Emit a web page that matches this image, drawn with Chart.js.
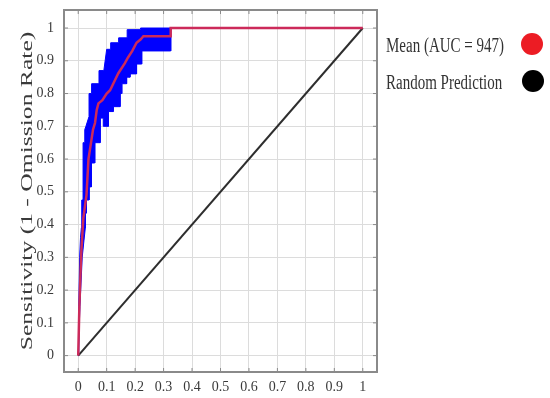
<!DOCTYPE html>
<html><head><meta charset="utf-8">
<script src="https://cdn.jsdelivr.net/npm/chart.js@4.4.1/dist/chart.umd.min.js"></script>
<style>
html,body{margin:0;padding:0;background:#fff;}
#wrap{position:relative;width:550px;height:398px;overflow:hidden;}
canvas{position:absolute;left:0;top:0;}
.lg{position:absolute;left:386px;font-family:'Liberation Serif','Times New Roman',serif;font-size:15px;color:#333;white-space:nowrap;line-height:20px;height:20px;transform:scaleY(1.35);transform-origin:left center;}
.dot{position:absolute;width:22px;height:22px;border-radius:50%;}
</style></head><body>
<div id="wrap"><canvas id="c" width="550" height="398"></canvas><div id="legend"></div></div>
<script>
// ---- data ----
const tickValues = [0, 0.1, 0.2, 0.3, 0.4, 0.5, 0.6, 0.7, 0.8, 0.9, 1];
const tickLabels = ['0', '0.1', '0.2', '0.3', '0.4', '0.5', '0.6', '0.7', '0.8', '0.9', '1'];
const seriesNames = ['Mean (AUC = 947)', 'Random Prediction'];
const legendColors = ['#ec1c24', '#000000'];

const meanX = [0, 0.004, 0.008, 0.011, 0.018, 0.029, 0.036, 0.045, 0.052, 0.059, 0.065, 0.071, 0.085, 0.1, 0.112, 0.123, 0.141, 0.164, 0.175, 0.19, 0.205, 0.219, 0.229, 0.325, 0.325, 1];
const meanY = [0, 0.15, 0.25, 0.32, 0.42, 0.49, 0.6, 0.65, 0.69, 0.71, 0.75, 0.77, 0.78, 0.8, 0.81, 0.83, 0.862, 0.893, 0.91, 0.93, 0.955, 0.965, 0.975, 0.975, 1, 1];

const upperX = [0, 0.002, 0.005, 0.008, 0.011, 0.011, 0.013, 0.013, 0.017, 0.017, 0.023, 0.023, 0.027, 0.038, 0.038, 0.047, 0.047, 0.073, 0.073, 0.09, 0.1, 0.114, 0.114, 0.142, 0.142, 0.172, 0.172, 0.219, 0.219, 0.325];
const upperY = [0, 0.15, 0.3, 0.36, 0.39, 0.435, 0.435, 0.475, 0.475, 0.65, 0.65, 0.69, 0.7, 0.73, 0.8, 0.8, 0.83, 0.83, 0.87, 0.87, 0.935, 0.935, 0.955, 0.955, 0.97, 0.97, 0.995, 0.995, 1, 1];

const lowerX = [0, 0.006, 0.014, 0.02, 0.025, 0.025, 0.029, 0.029, 0.038, 0.038, 0.046, 0.046, 0.058, 0.058, 0.077, 0.077, 0.088, 0.088, 0.106, 0.106, 0.123, 0.123, 0.147, 0.147, 0.153, 0.153, 0.17, 0.17, 0.182, 0.182, 0.205, 0.205, 0.223, 0.223, 0.325, 0.325];
const lowerY = [0, 0.15, 0.3, 0.35, 0.39, 0.435, 0.435, 0.475, 0.475, 0.515, 0.515, 0.588, 0.588, 0.65, 0.65, 0.725, 0.725, 0.70, 0.70, 0.745, 0.745, 0.76, 0.76, 0.80, 0.80, 0.83, 0.83, 0.85, 0.85, 0.86, 0.86, 0.89, 0.89, 0.93, 0.93, 1];

const diagX = [0, 1];
const diagY = [0, 1];

// ---- build ----
const toPts = (xs, ys) => xs.map((x, i) => ({x: x, y: ys[i]}));
const bandPts = toPts(upperX, upperY).concat(toPts(lowerX, lowerY).reverse());

const serif = "'Liberation Serif','Times New Roman',serif";

const boxPlugin = {
  id: 'box',
  afterDatasetsDraw(chart) {
    const {ctx, chartArea: a, scales: {x, y}} = chart;
    ctx.save();
    ctx.strokeStyle = '#8a8a8a';
    ctx.lineWidth = 1;
    ctx.beginPath();
    tickValues.forEach(v => {
      const px = x.getPixelForValue(v);
      ctx.moveTo(px, a.bottom); ctx.lineTo(px, a.bottom - 4);
      ctx.moveTo(px, a.top); ctx.lineTo(px, a.top + 4);
      const py = y.getPixelForValue(v);
      ctx.moveTo(a.left, py); ctx.lineTo(a.left + 4, py);
      ctx.moveTo(a.right, py); ctx.lineTo(a.right - 4, py);
    });
    ctx.stroke();
    ctx.lineWidth = 2;
    ctx.strokeRect(a.left, a.top, a.right - a.left, a.bottom - a.top);
    ctx.restore();
  }
};

const titleStretch = {
  id: 'titleStretch',
  beforeDraw(chart) {
    const s = chart.scales.y;
    if (s && !s._stretched) {
      const orig = s.drawTitle.bind(s);
      s.drawTitle = function () {
        const c = chart.ctx;
        const cy = (this.top + this.bottom) / 2;
        c.save();
        c.translate(0, cy); c.scale(1, 1.6); c.translate(0, -cy);
        orig();
        c.restore();
      };
      s._stretched = true;
    }
  }
};

new Chart(document.getElementById('c'), {
  type: 'scatter',
  data: {
    datasets: [
      {label: seriesNames[0], data: toPts(meanX, meanY), showLine: true, borderColor: '#cc2a5a', borderWidth: 2.5, pointRadius: 0, tension: 0, order: 0},
      {label: seriesNames[1], data: toPts(diagX, diagY), showLine: true, borderColor: '#2e2e2e', borderWidth: 2, pointRadius: 0, tension: 0, order: 1},
      {label: 'band', data: bandPts, showLine: true, fill: 'shape', backgroundColor: '#0000ff', borderColor: '#0000ff', borderWidth: 1, pointRadius: 0, tension: 0, order: 2}
    ]
  },
  options: {
    responsive: false,
    animation: false,
    devicePixelRatio: 1,
    layout: {padding: {left: 0, top: 10, right: 173, bottom: 0}},
    plugins: {legend: {display: false}, tooltip: {enabled: false}},
    scales: {
      x: {
        type: 'linear', min: -0.05, max: 1.05,
        afterBuildTicks: s => { s.ticks = tickValues.map(v => ({value: v})); },
        afterFit: s => { s.height = 26; s.paddingLeft = 0; s.paddingRight = 0; },
        grid: {color: '#dcdcdc', drawTicks: false},
        border: {display: false},
        ticks: {padding: 7, color: '#3a3a3a', font: {family: serif, size: 14}, maxRotation: 0,
          callback: (v, i) => tickLabels[i]}
      },
      y: {
        type: 'linear', min: -0.05, max: 1.055,
        afterBuildTicks: s => { s.ticks = tickValues.map(v => ({value: v})); },
        afterFit: s => { s.width = 64; s.paddingTop = 0; s.paddingBottom = 0; },
        grid: {color: '#dcdcdc', drawTicks: false},
        border: {display: false},
        ticks: {padding: 10, color: '#3a3a3a', font: {family: serif, size: 14},
          callback: (v, i) => tickLabels[i]},
        title: {display: true, text: 'Sensitivity (1 - Omission Rate)', color: '#3a3a3a',
          font: {family: serif, size: 16}, padding: {top: 18, bottom: 0}}
      }
    }
  },
  plugins: [boxPlugin, titleStretch]
});

// HTML legend (text then marker, as in the reference)
const legendEl = document.getElementById('legend');
const legendCenters = [45, 82];
seriesNames.forEach((name, i) => {
  const t = document.createElement('div');
  t.className = 'lg';
  t.style.top = (legendCenters[i] - 10) + 'px';
  t.textContent = name;
  legendEl.appendChild(t);
  const d = document.createElement('div');
  d.className = 'dot';
  d.style.left = (521 + i) + 'px';
  d.style.top = (legendCenters[i] - 12) + 'px';
  d.style.background = legendColors[i];
  legendEl.appendChild(d);
});
</script>
</body></html>
